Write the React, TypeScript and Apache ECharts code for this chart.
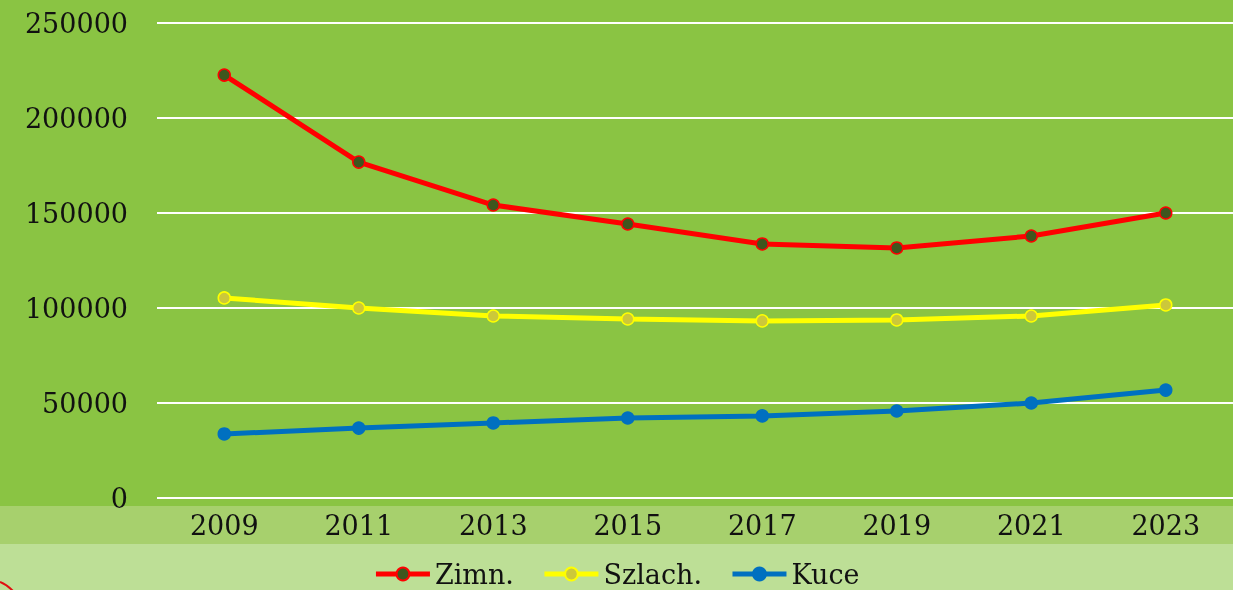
import React, { useEffect, useRef } from "react";
import * as echarts from "echarts";

const years = ["2009", "2011", "2013", "2015", "2017", "2019", "2021", "2023"];
const zimn = [222600, 176800, 154200, 144200, 133700, 131600, 137900, 150000];
const szlach = [105300, 100000, 95800, 94200, 93200, 93700, 95800, 101600];
const kuce = [33700, 36800, 39500, 42100, 43200, 45800, 50000, 56800];

const FONT = "DejaVu Serif";

export default function App() {
  const ref = useRef<HTMLDivElement>(null);
  useEffect(() => {
    const chart = echarts.init(ref.current!, null, { renderer: "svg" });
    const mk = (name: string, data: number[], line: string, fill: string) => ({
      name,
      type: "line",
      data,
      symbol: "circle",
      symbolSize: 12,
      lineStyle: { color: line, width: 5 },
      itemStyle: { color: fill, borderColor: line, borderWidth: 1.5 },
      emphasis: { disabled: true },
      z: 5,
    });
    chart.setOption({
      animation: false,
      graphic: [
        { type: "rect", z: -10, silent: true, shape: { x: 0, y: 0, width: 1233, height: 506 }, style: { fill: "#8AC443" } },
        { type: "rect", z: -10, silent: true, shape: { x: 0, y: 506, width: 1233, height: 38 }, style: { fill: "#A7D06D" } },
        { type: "rect", z: -10, silent: true, shape: { x: 0, y: 544, width: 1233, height: 46 }, style: { fill: "#BDDF96" } },
        { type: "bezierCurve", z: -5, silent: true, shape: { x1: 0, y1: 582, x2: 13, y2: 591, cpx1: 5, cpy1: 584, cpx2: 9, cpy2: 587 }, style: { fill: "none", stroke: "#E01010", lineWidth: 2 } },
      ],
      grid: { left: 157, right: 0, top: 23, bottom: 92, containLabel: false },
      legend: {
        bottom: 2,
        left: "center",
        padding: 0,
        itemWidth: 54,
        itemHeight: 16,
        itemGap: 28,
        lineStyle: { width: 5 },
        textStyle: { fontFamily: FONT, fontSize: 27, lineHeight: 28, color: "#111" },
        data: ["Zimn.", "Szlach.", "Kuce"],
      },
      xAxis: {
        type: "category",
        data: years,
        boundaryGap: true,
        axisLine: { show: false },
        axisTick: { show: false },
        axisLabel: { fontFamily: FONT, fontSize: 27, color: "#111", margin: 14 },
      },
      yAxis: {
        type: "value",
        min: 0,
        max: 250000,
        interval: 50000,
        axisLine: { show: false },
        axisTick: { show: false },
        splitLine: { lineStyle: { color: "#FFFFFF", width: 2 } },
        axisLabel: {
          fontFamily: FONT,
          fontSize: 27,
          color: "#111",
          margin: 29,
          formatter: (v: number) => String(v),
        },
      },
      series: [
        mk("Zimn.", zimn, "#FF0000", "#3E561E"),
        mk("Szlach.", szlach, "#FFFF00", "#CCC83A"),
        mk("Kuce", kuce, "#0070C0", "#0070C0"),
      ],
    });
    return () => chart.dispose();
  }, []);
  return (
    <div
      ref={ref}
      style={{ position: "fixed", left: 0, top: 0, width: 1233, height: 590 }}
    />
  );
}
